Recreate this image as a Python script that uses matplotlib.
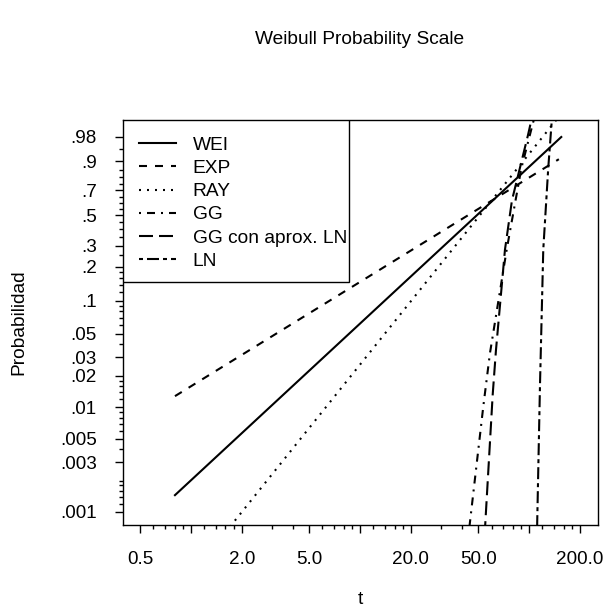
import numpy as np
import matplotlib
matplotlib.use("Agg")
import matplotlib.pyplot as plt
from matplotlib.patches import Rectangle
from matplotlib.ticker import FixedLocator, NullFormatter

plt.rcParams['font.family'] = ['Liberation Sans', 'DejaVu Sans']
plt.rcParams['lines.scale_dashes'] = False

# curves (t, cumulative probability)
t_wei = [0.805, 155.0]
p_wei = [0.00145, 0.98]
t_exp = [0.805, 150.0]
p_exp = [0.0128, 0.909]
t_ray = [1.70, 150.0]
p_ray = [0.00072, 0.9978]
t_gg = [43.8, 53.6, 58.7, 73.7, 90.0, 103.6, 110.0]
p_gg = [0.0006, 0.0102, 0.0327, 0.278, 0.86, 0.9916, 0.999]
t_ggln = [54.6, 55.3, 60.9, 63.7, 72.0, 79.2, 98.5, 106.0]
p_ggln = [0.0006, 0.00087, 0.0131, 0.0349, 0.278, 0.62, 0.983, 0.999]
t_ln = [111.5, 111.7, 116.0, 121.3, 129.8, 136.0, 138.5]
p_ln = [0.0006, 0.0008, 0.0163, 0.278, 0.86, 0.9957, 0.999]

labels = ["WEI", "EXP", "RAY", "GG", "GG con aprox. LN", "LN"]

x_major = [0.5, 1, 2, 5, 10, 20, 50, 100, 200]
x_major_lab = ["0.5", "", "2.0", "5.0", "", "20.0", "50.0", "", "200.0"]
x_minor = [0.6, 0.7, 0.8, 0.9, 1.2, 1.4, 1.6, 1.8, 3, 4, 6, 7, 8, 9,
           12, 14, 16, 18, 30, 40, 60, 70, 80, 90, 120, 140, 160, 180]
y_major = [.001, .003, .005, .01, .02, .03, .05, .1, .2, .3, .5, .7, .9, .98]
y_major_lab = [".001", ".003", ".005", ".01", ".02", ".03", ".05",
               ".1", ".2", ".3", ".5", ".7", ".9", ".98"]
y_minor = [.0012, .0014, .0016, .0018, .002, .004, .006, .007, .008, .009,
           .012, .014, .016, .018, .04, .06, .07, .08, .09,
           .12, .14, .16, .18, .25, .35, .4, .45, .55, .6, .65, .75, .8, .85, .95]


def fwd(p):
    p = np.clip(p, 1e-12, 1 - 1e-12)
    return np.log(-np.log(1 - p))


def inv(z):
    return 1 - np.exp(-np.exp(z))


fig = plt.figure(figsize=(6.05, 6.15), dpi=100)
ax = fig.add_axes([122.5 / 605, 90 / 615, 475.5 / 605, 405 / 615])
ax.set_xscale('log')
ax.set_yscale('function', functions=(fwd, inv))

u = 1.44  # one R dash unit in points
lw = 1.5
ax.plot(t_wei, p_wei, color='black', lw=lw, label=labels[0])
ax.plot(t_exp, p_exp, color='black', lw=lw, dashes=(4 * u, 4 * u), label=labels[1])
ax.plot(t_ray, p_ray, color='black', lw=lw, dashes=(1 * u, 3 * u), label=labels[2])
ax.plot(t_gg, p_gg, color='black', lw=lw, dashes=(1 * u, 3 * u, 4 * u, 3 * u), label=labels[3])
ax.plot(t_ggln, p_ggln, color='black', lw=lw, dashes=(7 * u, 3 * u), label=labels[4])
ax.plot(t_ln, p_ln, color='black', lw=lw, dashes=(2 * u, 2 * u, 6 * u, 2 * u), label=labels[5])

ax.set_xlim(0.394, 255.6)
ax.set_ylim(inv(-7.194), inv(1.739))

ax.xaxis.set_major_locator(FixedLocator(x_major))
ax.set_xticklabels(x_major_lab)
ax.xaxis.set_minor_locator(FixedLocator(x_minor))
ax.xaxis.set_minor_formatter(NullFormatter())
ax.yaxis.set_major_locator(FixedLocator(y_major))
ax.set_yticklabels(y_major_lab)
ax.yaxis.set_minor_locator(FixedLocator(y_minor))
ax.yaxis.set_minor_formatter(NullFormatter())

ax.tick_params(axis='both', which='major', direction='out', length=5.5, width=1,
               labelsize=13.6, colors='black')
ax.tick_params(axis='both', which='minor', direction='out', length=2.8, width=1)
ax.tick_params(axis='x', which='major', pad=13)
ax.tick_params(axis='y', which='major', pad=13)
for s in ax.spines.values():
    s.set_linewidth(1.0)

# legend box drawn separately so it hugs the text on the right like R's legend()
ax.add_patch(Rectangle((0, 0.6), 0.4763, 0.4, transform=ax.transAxes,
                       facecolor='white', edgecolor='black', lw=1.0, zorder=4))
leg = ax.legend(loc='upper left', bbox_to_anchor=(0, 1), borderaxespad=0,
                fontsize=13.8, frameon=False, handlelength=1.95,
                handletextpad=0.85, labelspacing=0.30, borderpad=0.86)
leg.set_zorder(5)

fig.text(360 / 605, 1 - 40 / 615, "Weibull Probability Scale", ha='center', va='center', fontsize=13.8)
fig.text(19 / 605, 1 - 322 / 615, "Probabilidad", rotation=90, ha='center', va='center', fontsize=13.8)
fig.text(360 / 605, 1 - 600 / 615, "t", ha='center', va='center', fontsize=13.8)

fig.savefig("out.png", dpi=100)
